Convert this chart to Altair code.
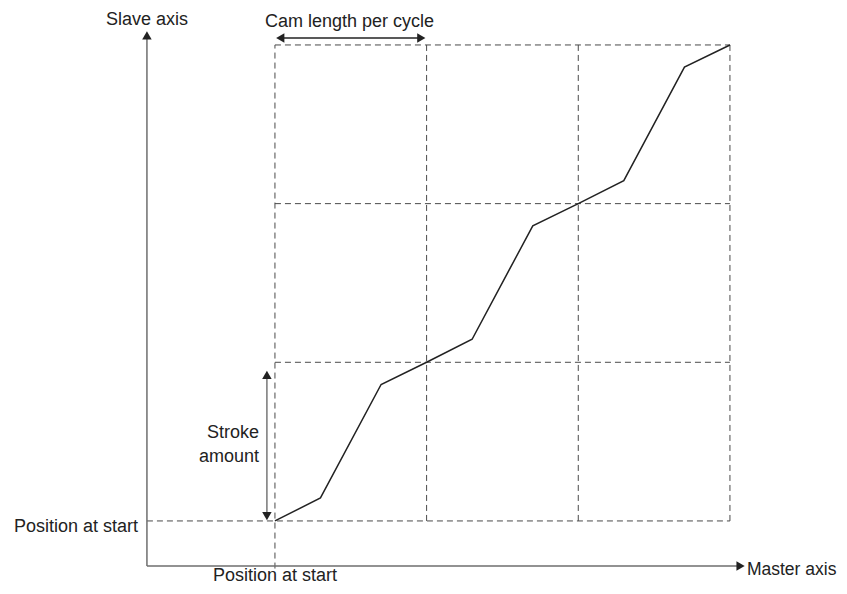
import altair as alt
import pandas as pd

# ---- data (units: cam cycles on master axis, strokes on slave axis) ----
cam_x = [0, 0.30, 0.70, 1.0, 1.30, 1.70, 2.0, 2.30, 2.70, 3.0]
cam_y = [0, 0.145, 0.86, 1.0, 1.145, 1.86, 2.0, 2.145, 2.86, 3.0]

cycles = [0, 1, 2, 3]          # vertical dashed grid positions
strokes = [0, 1, 2, 3]         # horizontal dashed grid positions

axis_x0 = -0.844               # slave axis position (master coordinate)
axis_y0 = -0.284               # master axis position (slave coordinate)
slave_top = 3.09
master_right = 3.10
start_line_bottom = -0.30

stroke_arrow_x = -0.053
stroke_arrow = [0.0, 0.95]
cam_arrow_y = 3.044
cam_arrow = [0.0, 1.0]

XDOM = [-1.760, 3.719]
YDOM = [-0.410, 3.233]
W, H = 831, 578
FONT = "Liberation Sans"
FS = 18

xs = alt.Scale(domain=XDOM, nice=False, zero=False)
ys = alt.Scale(domain=YDOM, nice=False, zero=False)
X = lambda f: alt.X(f, type="quantitative", scale=xs, axis=None)
Y = lambda f: alt.Y(f, type="quantitative", scale=ys, axis=None)

# dashed grid segments
grid_rows = []
for c in cycles:
    grid_rows.append(dict(x=c, x2=c, y=(start_line_bottom if c == 0 else 0), y2=3))
for s in strokes:
    grid_rows.append(dict(x=(axis_x0 if s == 0 else 0), x2=3, y=s, y2=s))
grid = alt.Chart(pd.DataFrame(grid_rows)).mark_rule(
    color="#4a4a4a", strokeDash=[6, 4], strokeWidth=1
).encode(x=X("x"), x2="x2", y=Y("y"), y2="y2")

# axes lines
axes_df = pd.DataFrame([
    dict(x=axis_x0, x2=axis_x0, y=axis_y0, y2=slave_top - 0.03),
    dict(x=axis_x0, x2=master_right - 0.03, y=axis_y0, y2=axis_y0),
])
axes = alt.Chart(axes_df).mark_rule(color="#6e6e6e", strokeWidth=1.5).encode(
    x=X("x"), x2="x2", y=Y("y"), y2="y2")

# annotation arrows
arrow_df = pd.DataFrame([
    dict(x=stroke_arrow_x, x2=stroke_arrow_x, y=stroke_arrow[0] + 0.04, y2=stroke_arrow[1] - 0.04, c="#777777"),
    dict(x=cam_arrow[0] + 0.04, x2=cam_arrow[1] - 0.04, y=cam_arrow_y, y2=cam_arrow_y, c="#222222"),
])
arrows = alt.Chart(arrow_df).mark_rule(strokeWidth=1.5).encode(
    x=X("x"), x2="x2", y=Y("y"), y2="y2", color=alt.Color("c:N", scale=None))

heads_df = pd.DataFrame([
    dict(x=axis_x0, y=slave_top - 0.03, shape="triangle-up"),
    dict(x=master_right - 0.03, y=axis_y0, shape="triangle-right"),
    dict(x=stroke_arrow_x, y=stroke_arrow[1] - 0.03, shape="triangle-up"),
    dict(x=stroke_arrow_x, y=stroke_arrow[0] + 0.03, shape="triangle-down"),
    dict(x=cam_arrow[0] + 0.035, y=cam_arrow_y, shape="triangle-left"),
    dict(x=cam_arrow[1] - 0.035, y=cam_arrow_y, shape="triangle-right"),
])
heads = alt.Chart(heads_df).mark_point(filled=True, size=90, opacity=1, color="#222222").encode(
    x=X("x"), y=Y("y"), shape=alt.Shape("shape:N", scale=None))

# cam curve
cam = alt.Chart(pd.DataFrame({"x": cam_x, "y": cam_y, "o": range(len(cam_x))})).mark_line(
    color="#222222", strokeWidth=1.5).encode(x=X("x"), y=Y("y"), order="o:Q")

# labels
def label(df, align, fs=FS):
    return alt.Chart(pd.DataFrame(df)).mark_text(
        font=FONT, fontSize=fs, color="#222222", align=align, baseline="alphabetic"
    ).encode(x=X("x"), y=Y("y"), text="t:N")

labels = alt.layer(
    label([dict(x=axis_x0, y=3.128, t="Slave axis"),
           dict(x=0.491, y=3.113, t="Cam length per cycle"),
           dict(x=0.0, y=-0.378, t="Position at start")], "center"),
    label([dict(x=-0.903, y=-0.069, t="Position at start"),
           dict(x=-0.105, y=0.523, t="Stroke"),
           dict(x=-0.105, y=0.372, t="amount")], "right"),
    label([dict(x=3.112, y=-0.340, t="Master axis")], "left", fs=17.5),
)

chart = alt.layer(grid, axes, arrows, cam, heads, labels).properties(
    width=W, height=H, padding=0, autosize=alt.AutoSizeParams(type="none"),
    background="white"
).configure_view(stroke=None)

chart.save("out.html", embed_options={"renderer": "svg", "actions": False})
